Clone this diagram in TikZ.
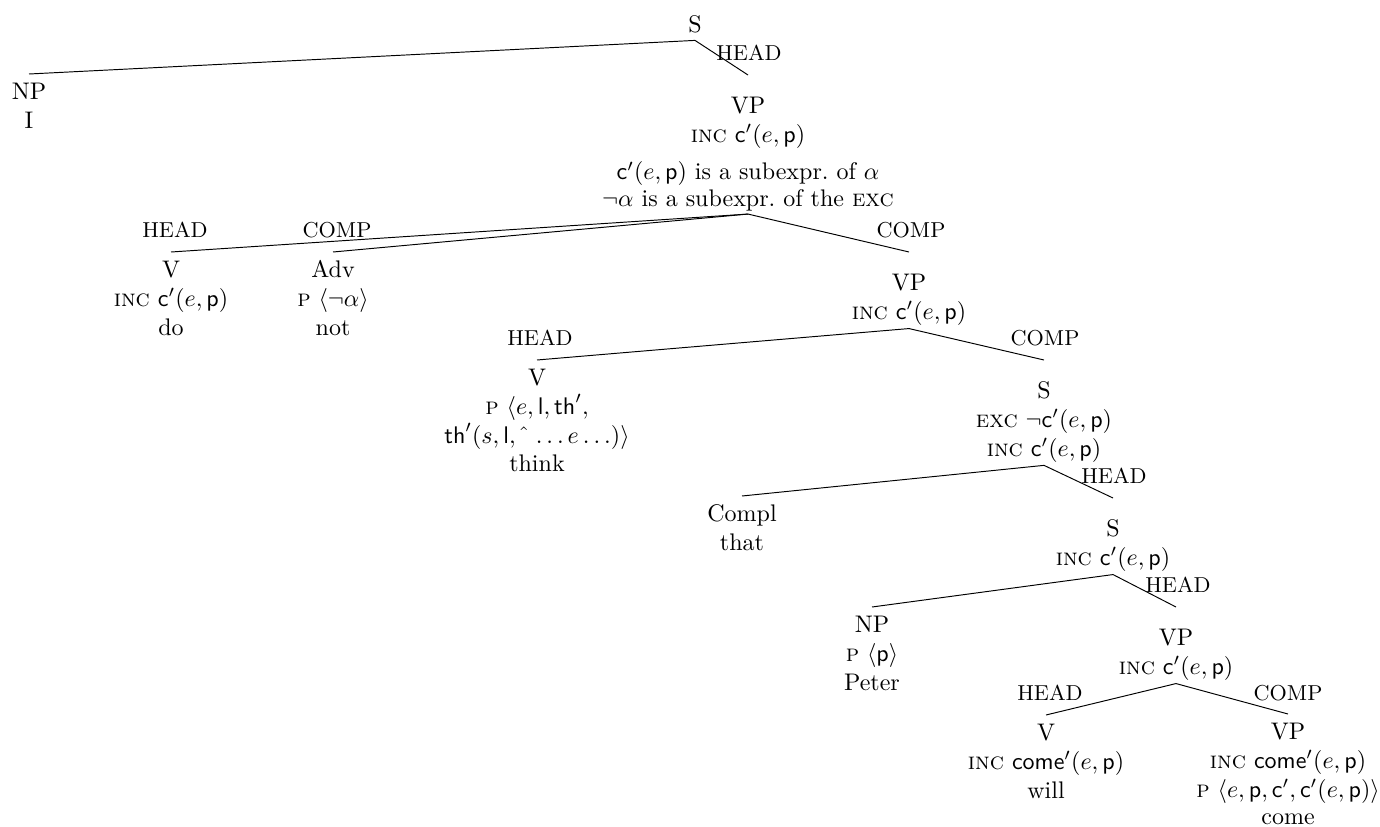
\documentclass[tikz,border=0pt]{standalone}
\usetikzlibrary{positioning}
% feature names and the recurring semantic term
\newcommand{\fInc}{\textsc{inc}}
\newcommand{\fExc}{\textsc{exc}}
\newcommand{\fP}{\textsc{p}}
\newcommand{\cep}{$\mathsf{c}'(e,\mathsf{p})$}
% head room above a node's first line: short and tall
\newcommand{\gapS}{\rule{0pt}{9.4pt}}
\newcommand{\gapL}{\rule{0pt}{15pt}}
\begin{document}
\begin{tikzpicture}[
  x=0.41667pt, y=-0.41667pt,
  tn/.style={align=center, inner sep=1pt, anchor=north},
  edgelab/.style={anchor=base, font=\small, inner sep=0pt},
  branch/.style={line width=0.4pt}
]
\useasboundingbox (0,0) rectangle (1380,827);

% tree nodes
\node[tn, anchor=base, text depth=2.3pt] (s0) at (695,32) {S};
\node[tn] (np1) at (29,74) {\gapS NP\\I};
\node[tn] (vp1) at (748,75)
  {\gapL VP\\\fInc\ \cep\\[3.5pt]\cep\ is a subexpr.\ of $\alpha$\\[-0.9pt]$\neg\alpha$ is a subexpr.\ of the \fExc};
\node[tn] (v1) at (171,252) {\gapS V\\\fInc\ \cep\\do};
\node[tn] (adv) at (333,252) {\gapS Adv\\\fP\ $\langle\neg\alpha\rangle$\\not};
\node[tn] (vp2) at (909,252) {\gapL VP\\\fInc\ \cep};
\node[tn] (v2) at (537,360)
  {\gapS V\\\fP\ $\langle e,\mathsf{l},\mathsf{th}',$\\$\mathsf{th}'(s,\mathsf{l},\hat{\ }\,\ldots e\ldots)\rangle$\\think};
\node[tn] (s2) at (1044,360) {\gapL S\\\fExc\ $\neg\mathsf{c}'(e,\mathsf{p})$\\\fInc\ \cep};
\node[tn] (compl) at (742,496) {\gapS Compl\\that};
\node[tn] (s3) at (1113,498) {\gapL S\\\fInc\ \cep};
\node[tn] (np2) at (872,607) {\gapS NP\\\fP\ $\langle\mathsf{p}\rangle$\\Peter};
\node[tn] (vp3) at (1176,607) {\gapL VP\\\fInc\ \cep};
\node[tn] (v3) at (1046,715) {\gapS V\\\fInc\ $\mathsf{come}'(e,\mathsf{p})$\\will};
\node[tn] (vp4) at (1288,714)
  {\gapS VP\\\fInc\ $\mathsf{come}'(e,\mathsf{p})$\\\fP\ $\langle e,\mathsf{p},\mathsf{c}',\mathsf{c}'(e,\mathsf{p})\rangle$\\[-0.6pt]come};

% branches
\draw[branch] (s0.south) -- (np1.north);
\draw[branch] (s0.south) -- (vp1.north);
\draw[branch] (vp1.south) -- (v1.north);
\draw[branch] (vp1.south) -- (adv.north);
\draw[branch] (vp1.south) -- (vp2.north);
\draw[branch] (vp2.south) -- (v2.north);
\draw[branch] (vp2.south) -- (s2.north);
\draw[branch] (s2.south) -- (compl.north);
\draw[branch] (s2.south) -- (s3.north);
\draw[branch] (s3.south) -- (np2.north);
\draw[branch] (s3.south) -- (vp3.north);
\draw[branch] (vp3.south) -- (v3.north);
\draw[branch] (vp3.south) -- (vp4.north);

% branch labels
\node[edgelab] (h1) at (749,60) {HEAD};
\node[edgelab] (h2) at (175,237) {HEAD};
\node[edgelab] (c1) at (337,237) {COMP};
\node[edgelab] (c2) at (911,237) {COMP};
\node[edgelab] (h3) at (540,345) {HEAD};
\node[edgelab] (c3) at (1045,345) {COMP};
\node[edgelab] (h4) at (1114,483) {HEAD};
\node[edgelab] (h5) at (1178,592) {HEAD};
\node[edgelab] (h6) at (1050,700) {HEAD};
\node[edgelab] (c4) at (1288,700) {COMP};
\end{tikzpicture}
\end{document}
